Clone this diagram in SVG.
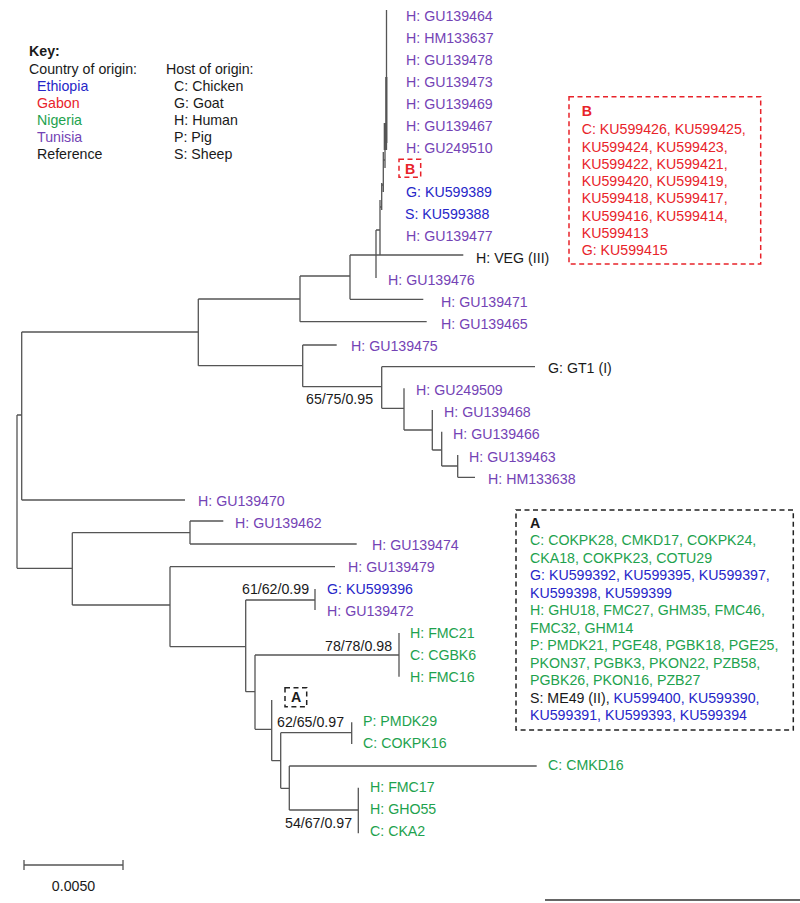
<svg xmlns="http://www.w3.org/2000/svg" width="800" height="903" viewBox="0 0 800 903">
<style>
text{font-family:"Liberation Sans",Arial,sans-serif;font-size:14.2px}
.tu{fill:#7443b5}.et{fill:#2626c8}.ng{fill:#1ea24e}.ga{fill:#e8232a}.rf{fill:#1a1a1a}
.b{font-weight:bold}
.br{fill:none;stroke:#555;stroke-width:1.3}
.dr{fill:none;stroke:#e8232a;stroke-width:1.5;stroke-dasharray:5 3.5}
.dk{fill:none;stroke:#222;stroke-width:1.5;stroke-dasharray:5 3.5}
</style>
<rect width="800" height="903" fill="#fff"/>
<g id="key">
<text x="29" y="56" class="rf b">Key:</text>
<text x="29" y="74" class="rf">Country of origin:</text>
<text x="37" y="91" class="et">Ethiopia</text>
<text x="37" y="108" class="ga">Gabon</text>
<text x="37" y="125" class="ng">Nigeria</text>
<text x="37" y="142" class="tu">Tunisia</text>
<text x="37" y="159" class="rf">Reference</text>
<text x="166" y="74" class="rf">Host of origin:</text>
<text x="174" y="91" class="rf">C: Chicken</text>
<text x="174" y="108" class="rf">G: Goat</text>
<text x="174" y="125" class="rf">H: Human</text>
<text x="174" y="142" class="rf">P: Pig</text>
<text x="174" y="159" class="rf">S: Sheep</text>
</g>
<g id="connectors" class="br">
<path d="M17,415 V568.3 M17,415 H21.7 M21.7,332 V500 M21.7,332 H198.3 M21.7,500 H185"/>
<path d="M198.3,299 V365.7 M198.3,299 H300 M198.3,365.7 H302.7"/>
<path d="M300,276 V321.7 M300,321.7 H426.7 M300,276 H350"/>
<path d="M350,255 V299.3 M350,299.3 H423.3 M350,255 H463.3"/>
<path d="M376,230 V278 M376,230 H380 M380,200 V255 M380,207 H381.7 M381.7,183 V210 M381.7,185 H383.3 M383.3,152 V192 M383.3,160 H385 M385,123 V168 M385,135 H386.5 M386.5,10 V150"/>
<path d="M386.3,77 V143 M384.8,123 V150" style="stroke-width:2.2"/>
<path d="M302.7,345 V386.7 M302.7,345 H336.7 M302.7,386.7 H381.7"/>
<path d="M381.7,366.7 V408.3 M381.7,366.7 H535 M381.7,408.3 H404"/>
<path d="M404,388.3 V430 M404,430 H432.3 M432.3,410 V450 M432.3,450 H441.7"/>
<path d="M441.7,431.7 V466 M441.7,466 H457.7 M457.7,455 V477.3 M457.7,477.3 H475"/>
<path d="M17,568.3 H72.3 M72.3,532.7 V605 M72.3,532.7 H190 M72.3,605 H170"/>
<path d="M190,521 V544 M190,521 H223.3 M190,544 H356.7"/>
<path d="M170,566.7 V646.7 M170,566.7 H335 M170,646.7 H245.7"/>
<path d="M245.7,600 V691.7 M245.7,600 H315 M245.7,691.7 H255 M315,589 V610"/>
<path d="M255,655 V729.3 M255,655 H399 M255,729.3 H271.7 M399,633 V676.7"/>
<path d="M271.7,700 V760.7 M271.7,760.7 H280.7 M280.7,732.7 V788.3 M280.7,732.7 H351.7 M280.7,788.3 H289.3 M351.7,722.3 V744"/>
<path d="M289.3,766 V810 M289.3,766 H536.7 M289.3,810 H358.3 M358.3,787.7 V833.3"/>
</g>
<g id="leaves">
<text id="n0" x="406" y="20.5" class="tu">H: GU139464</text>
<text id="n1" x="406" y="42.5" class="tu">H: HM133637</text>
<text id="n2" x="406" y="64.6" class="tu">H: GU139478</text>
<text id="n3" x="406" y="86.6" class="tu">H: GU139473</text>
<text id="n4" x="406" y="108.7" class="tu">H: GU139469</text>
<text id="n5" x="406" y="130.7" class="tu">H: GU139467</text>
<text id="n6" x="406" y="152.8" class="tu">H: GU249510</text>
<text id="n8" x="406" y="196.9" class="et">G: KU599389</text>
<text id="n9" x="405" y="218.9" class="et">S: KU599388</text>
<text id="n10" x="406" y="241" class="tu">H: GU139477</text>
<text id="n11" x="476" y="263" class="rf">H: VEG (III)</text>
<text id="n12" x="388" y="285.1" class="tu">H: GU139476</text>
<text id="n13" x="441" y="307.1" class="tu">H: GU139471</text>
<text id="n14" x="441" y="329.2" class="tu">H: GU139465</text>
<text id="n15" x="351" y="351.2" class="tu">H: GU139475</text>
<text id="n16" x="548" y="373.3" class="rf">G: GT1 (I)</text>
<text id="n17" x="416" y="395.3" class="tu">H: GU249509</text>
<text id="n18" x="444" y="417.4" class="tu">H: GU139468</text>
<text id="n19" x="453" y="439.4" class="tu">H: GU139466</text>
<text id="n20" x="469" y="461.5" class="tu">H: GU139463</text>
<text id="n21" x="488" y="483.5" class="tu">H: HM133638</text>
<text id="n22" x="198" y="505.6" class="tu">H: GU139470</text>
<text id="n23" x="235" y="527.6" class="tu">H: GU139462</text>
<text id="n24" x="372" y="549.7" class="tu">H: GU139474</text>
<text id="n25" x="348" y="571.7" class="tu">H: GU139479</text>
<text id="n26" x="327" y="593.8" class="et">G: KU599396</text>
<text id="n27" x="327" y="615.8" class="tu">H: GU139472</text>
<text id="n28" x="410" y="637.9" class="ng">H: FMC21</text>
<text id="n29" x="410" y="659.9" class="ng">C: CGBK6</text>
<text id="n30" x="410" y="682" class="ng">H: FMC16</text>
<text id="n32" x="363" y="726.1" class="ng">P: PMDK29</text>
<text id="n33" x="363" y="748.1" class="ng">C: COKPK16</text>
<text id="n34" x="548" y="770.2" class="ng">C: CMKD16</text>
<text id="n35" x="370" y="792.2" class="ng">H: FMC17</text>
<text id="n36" x="370" y="814.3" class="ng">H: GHO55</text>
<text id="n37" x="370" y="836.3" class="ng">C: CKA2</text>
</g>
<g id="support" class="rf">
<text x="306" y="404">65/75/0.95</text>
<text x="242" y="594">61/62/0.99</text>
<text x="325" y="651">78/78/0.98</text>
<text x="277" y="727">62/65/0.97</text>
<text x="285" y="828">54/67/0.97</text>
</g>
<g id="markerB">
<rect x="399" y="159.3" width="21.7" height="18" class="dr"/>
<text x="410" y="173.5" text-anchor="middle" class="ga b">B</text>
</g>
<g id="markerA">
<rect x="285" y="687.7" width="21.7" height="19" class="dk"/>
<text x="296" y="702" text-anchor="middle" class="rf b">A</text>
</g>
<g id="boxB">
<rect x="569" y="96.7" width="191.7" height="167.3" class="dr"/>
<text x="581.7" y="115.7" class="ga b">B</text>
<text x="581.7" y="134.3" class="ga">C: KU599426, KU599425,</text>
<text x="581.7" y="151.6" class="ga">KU599424, KU599423,</text>
<text x="581.7" y="168.9" class="ga">KU599422, KU599421,</text>
<text x="581.7" y="186.1" class="ga">KU599420, KU599419,</text>
<text x="581.7" y="203.4" class="ga">KU599418, KU599417,</text>
<text x="581.7" y="220.6" class="ga">KU599416, KU599414,</text>
<text x="581.7" y="237.9" class="ga">KU599413</text>
<text x="581.7" y="255.1" class="ga">G: KU599415</text>
</g>
<g id="boxA">
<rect x="516" y="510" width="277.3" height="220" class="dk"/>
<text x="530" y="528.3" class="rf b">A</text>
<text x="530" y="545" class="ng">C: COKPK28, CMKD17, COKPK24,</text>
<text x="530" y="562.5" class="ng">CKA18, COKPK23, COTU29</text>
<text x="530" y="580" class="et">G: KU599392, KU599395, KU599397,</text>
<text x="530" y="597.5" class="et">KU599398, KU599399</text>
<text x="530" y="615" class="ng">H: GHU18, FMC27, GHM35, FMC46,</text>
<text x="530" y="632.5" class="ng">FMC32, GHM14</text>
<text x="530" y="650" class="ng">P: PMDK21, PGE48, PGBK18, PGE25,</text>
<text x="530" y="667.5" class="ng">PKON37, PGBK3, PKON22, PZB58,</text>
<text x="530" y="685" class="ng">PGBK26, PKON16, PZB27</text>
<text x="530" y="702.5" class="rf">S: ME49 (II), <tspan class="et">KU599400, KU599390,</tspan></text>
<text x="530" y="720" class="et">KU599391, KU599393, KU599394</text>
</g>
<g id="scalebar">
<path d="M24,865 H123 M24,860 V870 M123,860 V870" class="br"/>
<text x="73.5" y="891" text-anchor="middle" class="rf">0.0050</text>
</g>
<path d="M545,900 H800" stroke="#333" stroke-width="1.5"/>
</svg>
